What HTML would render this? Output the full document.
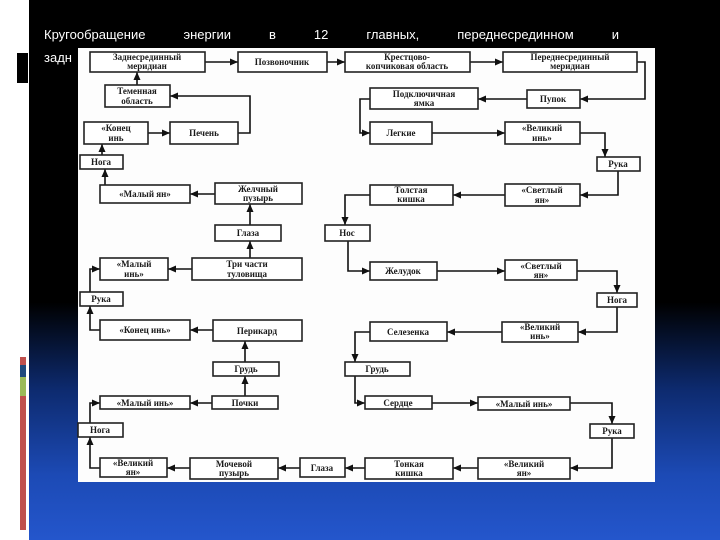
<!DOCTYPE html>
<html><head><meta charset="utf-8"><style>
html,body{margin:0;padding:0;width:720px;height:540px;overflow:hidden;background:#fff}
#bg{position:absolute;left:29px;top:0;width:691px;height:540px;background:linear-gradient(#000 0%,#000 56%,#0d2a6e 72%,#1c4ab5 88%,#2456cc 100%)}
.t{position:absolute;color:#fff;font-family:"Liberation Sans",sans-serif;font-size:13px}
svg{position:absolute;left:0;top:0}
</style></head><body>
<div id="bg"></div>
<div style="position:absolute;left:17px;top:53px;width:11px;height:30px;background:#000"></div>
<div style="position:absolute;left:20px;top:357px;width:6px;height:8px;background:#c0504d"></div>
<div style="position:absolute;left:20px;top:365px;width:6px;height:12px;background:#1f497d"></div>
<div style="position:absolute;left:20px;top:377px;width:6px;height:19px;background:#9bbb59"></div>
<div style="position:absolute;left:20px;top:396px;width:6px;height:134px;background:#c0504d"></div>
<div class="t" style="left:44px;top:27px;width:575px;text-align:justify;text-align-last:justify">Кругообращение энергии в 12 главных, переднесрединном и</div>
<div class="t" style="left:44px;top:50px">задн</div>
<svg width="720" height="540" viewBox="0 0 720 540" font-family="Liberation Serif, serif" font-size="9" font-weight="bold" fill="#1a1a1a">
<rect x="78" y="48" width="577" height="434" fill="#fdfdfd"/>
<defs><marker id="a" markerWidth="6" markerHeight="6" refX="5" refY="3" orient="auto"><path d="M0,0.8L5,3L0,5.2z" fill="#111"/></marker></defs>
<g stroke="#111" stroke-width="1.6" fill="none" marker-end="url(#a)">
<path d="M205,62H238"/><path d="M327,62H345"/><path d="M470,62H503"/>
<path d="M637,62H645V99H580"/><path d="M527,99H478"/>
<path d="M370,99H360V133H370"/><path d="M432,133H505"/>
<path d="M580,133H605V157"/><path d="M618,171V195H580"/>
<path d="M505,195H453"/><path d="M370,195H345V225"/>
<path d="M348,241V271H370"/><path d="M437,271H505"/>
<path d="M577,271H617V293"/><path d="M617,307V332H578"/>
<path d="M502,332H447"/><path d="M370,332H355V362"/>
<path d="M355,376V403H365"/><path d="M432,403H478"/>
<path d="M570,403H612V424"/><path d="M612,438V468H570"/>
<path d="M478,468H453"/><path d="M365,468H345"/><path d="M300,468H278"/><path d="M190,468H167"/>
<path d="M100,468H90V437"/><path d="M90,423V403H100"/>
<path d="M212,403H190"/><path d="M245,396V376"/><path d="M245,362V341"/>
<path d="M213,330H190"/><path d="M100,330H90V306"/><path d="M90,292V269H100"/>
<path d="M192,269H168"/><path d="M250,258V241"/><path d="M250,225V204"/>
<path d="M215,194H190"/><path d="M105,185V169"/><path d="M102,155V144"/>
<path d="M148,133H170"/><path d="M238,133H250V96H170"/><path d="M137,85V72"/>
</g>
<g stroke="#222" stroke-width="1.6" fill="#fff">
<rect x="90" y="52" width="115" height="20"/><rect x="238" y="52" width="89" height="20"/><rect x="345" y="52" width="125" height="20"/><rect x="503" y="52" width="134" height="20"/>
<rect x="105" y="85" width="65" height="22"/><rect x="370" y="88" width="108" height="21"/><rect x="527" y="90" width="53" height="18"/>
<rect x="84" y="122" width="64" height="22"/><rect x="170" y="122" width="68" height="22"/><rect x="370" y="122" width="62" height="22"/><rect x="505" y="122" width="75" height="22"/>
<rect x="80" y="155" width="43" height="14"/><rect x="597" y="157" width="43" height="14"/>
<rect x="100" y="185" width="90" height="18"/><rect x="215" y="183" width="87" height="21"/><rect x="370" y="185" width="83" height="20"/><rect x="505" y="184" width="75" height="22"/>
<rect x="215" y="225" width="66" height="16"/><rect x="325" y="225" width="45" height="16"/>
<rect x="100" y="258" width="68" height="22"/><rect x="192" y="258" width="110" height="22"/><rect x="370" y="262" width="67" height="18"/><rect x="505" y="260" width="72" height="20"/>
<rect x="80" y="292" width="43" height="14"/><rect x="597" y="293" width="40" height="14"/>
<rect x="100" y="320" width="90" height="20"/><rect x="213" y="320" width="89" height="21"/><rect x="370" y="322" width="77" height="19"/><rect x="502" y="322" width="76" height="20"/>
<rect x="213" y="362" width="66" height="14"/><rect x="345" y="362" width="65" height="14"/>
<rect x="100" y="396" width="90" height="13"/><rect x="212" y="396" width="66" height="13"/><rect x="365" y="396" width="67" height="13"/><rect x="478" y="397" width="92" height="13"/>
<rect x="78" y="423" width="45" height="14"/><rect x="590" y="424" width="44" height="14"/>
<rect x="100" y="458" width="67" height="19"/><rect x="190" y="458" width="88" height="21"/><rect x="300" y="458" width="45" height="19"/><rect x="365" y="458" width="88" height="21"/><rect x="478" y="458" width="92" height="21"/>
</g>
<g text-anchor="middle">
<text x="147" y="60">Заднесрединный</text><text x="147" y="69">меридиан</text>
<text x="282" y="65">Позвоночник</text>
<text x="407" y="60">Крестцово-</text><text x="407" y="69">копчиковая область</text>
<text x="570" y="60">Переднесрединный</text><text x="570" y="69">меридиан</text>
<text x="137" y="94">Теменная</text><text x="137" y="104">область</text>
<text x="424" y="97">Подключичная</text><text x="424" y="106">ямка</text>
<text x="553" y="102">Пупок</text>
<text x="116" y="131">«Конец</text><text x="116" y="141">инь</text>
<text x="204" y="136">Печень</text><text x="401" y="136">Легкие</text>
<text x="542" y="131">«Великий</text><text x="542" y="141">инь»</text>
<text x="101" y="165">Нога</text><text x="618" y="167">Рука</text>
<text x="145" y="197">«Малый ян»</text>
<text x="258" y="192">Желчный</text><text x="258" y="201">пузырь</text>
<text x="411" y="193">Толстая</text><text x="411" y="202">кишка</text>
<text x="542" y="193">«Светлый</text><text x="542" y="203">ян»</text>
<text x="248" y="236">Глаза</text><text x="347" y="236">Нос</text>
<text x="134" y="267">«Малый</text><text x="134" y="277">инь»</text>
<text x="247" y="267">Три части</text><text x="247" y="277">туловища</text>
<text x="403" y="274">Желудок</text>
<text x="541" y="269">«Светлый</text><text x="541" y="278">ян»</text>
<text x="101" y="302">Рука</text><text x="617" y="303">Нога</text>
<text x="145" y="333">«Конец инь»</text><text x="257" y="334">Перикард</text><text x="408" y="335">Селезенка</text>
<text x="540" y="330">«Великий</text><text x="540" y="339">инь»</text>
<text x="246" y="372">Грудь</text><text x="377" y="372">Грудь</text>
<text x="145" y="406">«Малый инь»</text><text x="245" y="406">Почки</text><text x="398" y="406">Сердце</text><text x="524" y="407">«Малый инь»</text>
<text x="100" y="433">Нога</text><text x="612" y="434">Рука</text>
<text x="133" y="466">«Великий</text><text x="133" y="475">ян»</text>
<text x="234" y="467">Мочевой</text><text x="234" y="476">пузырь</text>
<text x="322" y="471">Глаза</text>
<text x="409" y="467">Тонкая</text><text x="409" y="476">кишка</text>
<text x="524" y="467">«Великий</text><text x="524" y="476">ян»</text>
</g>
</svg>
</body></html>
